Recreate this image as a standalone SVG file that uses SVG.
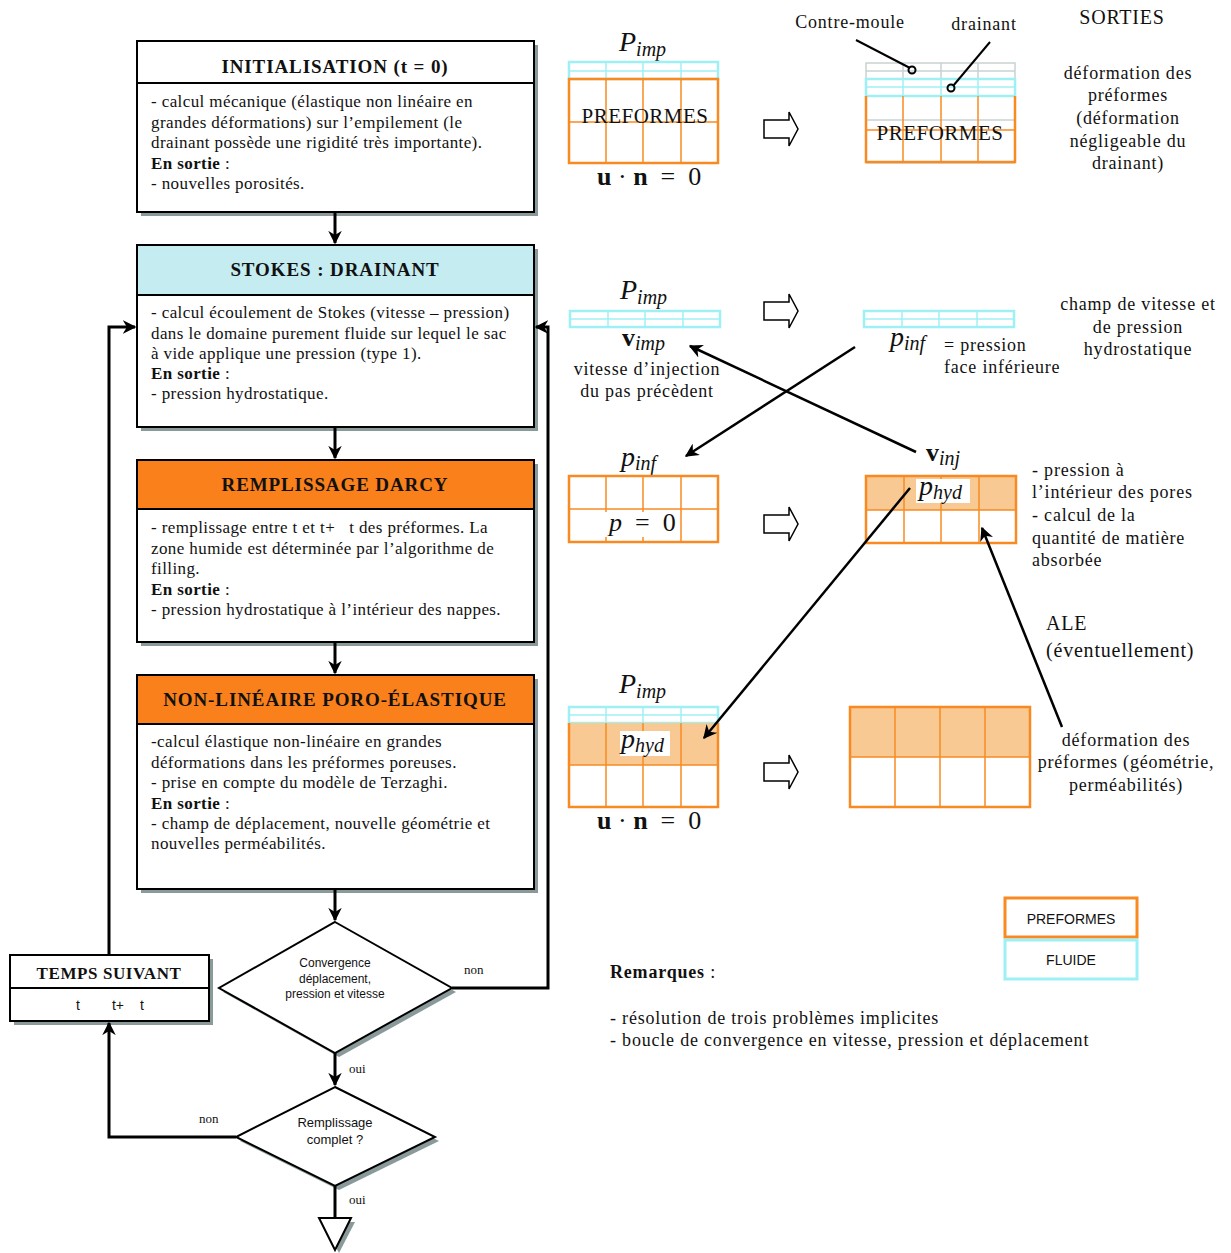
<svg xmlns="http://www.w3.org/2000/svg" width="1231" height="1253" viewBox="0 0 1231 1253">
<style>
.sh{fill:#8a9a9a}
.box{fill:#fff;stroke:#000;stroke-width:2}
.t{font-family:"Liberation Serif",serif;font-size:17px;letter-spacing:0.4px;fill:#111}
.tb{font-weight:bold}
.ti{font-family:"Liberation Serif",serif;font-size:19px;letter-spacing:0.9px;font-weight:bold;text-anchor:middle;fill:#111}
.ss{font-family:"Liberation Sans",sans-serif;font-size:12px;text-anchor:middle;fill:#111}
.lbl{font-family:"Liberation Serif",serif;font-size:13px;fill:#111}
.con{fill:none;stroke:#000;stroke-width:3}
.thin{fill:none;stroke:#000;stroke-width:2.5}
.og{fill:none;stroke:#f98a22;stroke-width:1.5}
.ogb{fill:none;stroke:#f98a22;stroke-width:2.5}
.cy{fill:none;stroke:#9ef0f4;stroke-width:1.5}
.cyb{fill:none;stroke:#9ef0f4;stroke-width:2.5}
.gr{fill:none;stroke:#c8d2d2;stroke-width:1.5}
.rt{font-family:"Liberation Serif",serif;font-size:18px;letter-spacing:0.8px;fill:#111;text-anchor:middle}
.ra{font-family:"Liberation Serif",serif;font-size:18px;letter-spacing:0.8px;fill:#111}
.m{font-family:"Liberation Serif",serif;font-style:italic;font-size:28px;fill:#111}
.mb{font-family:"Liberation Serif",serif;font-size:26px;fill:#111}
.sub{font-size:20px}
.pf{font-family:"Liberation Serif",serif;font-size:21px;letter-spacing:0.5px;fill:#111;text-anchor:middle}
.hol{fill:#fff;stroke:#000;stroke-width:1.5}
.lfill{fill:#f8c993}
</style>
<defs>
<marker id="ah" viewBox="0 0 10 10" refX="9" refY="5" markerWidth="4.5" markerHeight="4.5" orient="auto" markerUnits="strokeWidth"><path d="M0,0 L10,5 L0,10 L3,5 Z" fill="#000"/></marker>
<marker id="ah2" viewBox="0 0 10 10" refX="9" refY="5" markerWidth="5.5" markerHeight="5.5" orient="auto" markerUnits="strokeWidth"><path d="M0,0 L10,5 L0,10 L3,5 Z" fill="#000"/></marker>
<path id="hollow" d="M0,-9 H25 V-17 L34,0 L25,17 V9 H0 Z"/>
</defs>

<g id="init">
<rect class="sh" x="141" y="45" width="397" height="171"/>
<rect class="box" x="137" y="41" width="397" height="171"/>
<line x1="137" y1="83" x2="534" y2="83" stroke="#000" stroke-width="2"/>
<text class="ti" x="335" y="73">INITIALISATION (t = 0)</text>
<text class="t" x="151" y="107">- calcul mécanique (élastique non linéaire en</text>
<text class="t" x="151" y="128">grandes déformations) sur l’empilement (le</text>
<text class="t" x="151" y="148">drainant possède une rigidité très importante).</text>
<text class="t" x="151" y="169"><tspan class="tb">En sortie</tspan> :</text>
<text class="t" x="151" y="189">- nouvelles porosités.</text>
</g>

<g id="stokes">
<rect class="sh" x="141" y="249" width="397" height="182"/>
<rect class="box" x="137" y="245" width="397" height="182"/>
<rect x="138" y="246" width="395" height="49" fill="#c4ecf1"/>
<line x1="137" y1="295" x2="534" y2="295" stroke="#000" stroke-width="2"/>
<text class="ti" x="335" y="276">STOKES : DRAINANT</text>
<text class="t" x="151" y="318">- calcul écoulement de Stokes (vitesse – pression)</text>
<text class="t" x="151" y="339">dans le domaine purement fluide sur lequel le sac</text>
<text class="t" x="151" y="359">à vide applique une pression (type 1).</text>
<text class="t" x="151" y="379"><tspan class="tb">En sortie</tspan> :</text>
<text class="t" x="151" y="399">- pression hydrostatique.</text>
</g>

<g id="darcy">
<rect class="sh" x="141" y="464" width="397" height="182"/>
<rect class="box" x="137" y="460" width="397" height="182"/>
<rect x="138" y="461" width="395" height="48" fill="#f9801a"/>
<line x1="137" y1="509" x2="534" y2="509" stroke="#000" stroke-width="2"/>
<text class="ti" x="335" y="491">REMPLISSAGE DARCY</text>
<text class="t" x="151" y="533" xml:space="preserve">- remplissage entre t et t+   t des préformes. La</text>
<text class="t" x="151" y="554">zone humide est déterminée par l’algorithme de</text>
<text class="t" x="151" y="574">filling.</text>
<text class="t" x="151" y="595"><tspan class="tb">En sortie</tspan> :</text>
<text class="t" x="151" y="615">- pression hydrostatique à l’intérieur des nappes.</text>
</g>

<g id="poro">
<rect class="sh" x="141" y="679" width="397" height="214"/>
<rect class="box" x="137" y="675" width="397" height="214"/>
<rect x="138" y="676" width="395" height="48" fill="#f9801a"/>
<line x1="137" y1="724" x2="534" y2="724" stroke="#000" stroke-width="2"/>
<text class="ti" x="335" y="706">NON-LINÉAIRE PORO-ÉLASTIQUE</text>
<text class="t" x="151" y="747">-calcul élastique non-linéaire en grandes</text>
<text class="t" x="151" y="768">déformations dans les préformes poreuses.</text>
<text class="t" x="151" y="788">- prise en compte du modèle de Terzaghi.</text>
<text class="t" x="151" y="809"><tspan class="tb">En sortie</tspan> :</text>
<text class="t" x="151" y="829">- champ de déplacement, nouvelle géométrie et</text>
<text class="t" x="151" y="849">nouvelles perméabilités.</text>
</g>

<g id="temps">
<rect class="sh" x="14" y="959" width="199" height="66"/>
<rect class="box" x="10" y="955" width="199" height="66"/>
<line x1="10" y1="988" x2="209" y2="988" stroke="#000" stroke-width="2"/>
<text class="ti" x="109" y="979" style="font-size:17px;letter-spacing:0.6px">TEMPS SUIVANT</text>
<text class="ss" x="78" y="1010" style="font-size:14px">t</text>
<text class="ss" x="118" y="1010" style="font-size:14px">t+</text>
<text class="ss" x="142" y="1010" style="font-size:14px">t</text>
</g>

<g id="conv">
<path class="sh" d="M339,926 L456,992 L339,1057 L223,992 Z"/>
<path class="box" d="M335,922 L452,988 L335,1053 L219,988 Z"/>
<text class="ss" x="335" y="967">Convergence</text>
<text class="ss" x="335" y="983">déplacement,</text>
<text class="ss" x="335" y="998">pression et vitesse</text>
</g>

<g id="complet">
<path class="sh" d="M339,1091 L439,1141 L339,1190 L240,1141 Z"/>
<path class="box" d="M335,1087 L435,1137 L335,1186 L236,1137 Z"/>
<text class="ss" x="335" y="1127" style="font-size:13px">Remplissage</text>
<text class="ss" x="335" y="1144" style="font-size:13px">complet ?</text>
</g>

<g id="end">
<path class="sh" d="M323,1222 L355,1222 L339,1253 Z"/>
<path class="box" d="M319,1218 L351,1218 L335,1250 Z"/>
</g>

<g id="grid-init-left">
<text class="m" x="619" y="51">P<tspan class="sub" dy="5">imp</tspan></text>
<rect x="569" y="62" width="149" height="17" class="cyb"/>
<line x1="569" y1="71" x2="718" y2="71" class="cy"/>
<line x1="606" y1="62" x2="606" y2="79" class="cy"/>
<line x1="643" y1="62" x2="643" y2="79" class="cy"/>
<line x1="681" y1="62" x2="681" y2="79" class="cy"/>
<line x1="569" y1="122" x2="718" y2="122" class="og"/>
<line x1="606" y1="79" x2="606" y2="163" class="og"/>
<line x1="643" y1="79" x2="643" y2="163" class="og"/>
<line x1="681" y1="79" x2="681" y2="163" class="og"/>
<rect x="569" y="79" width="149" height="84" class="ogb"/>
<text class="pf" x="645" y="123">PREFORMES</text>
<text class="mb" x="597" y="185" xml:space="preserve"><tspan font-weight="bold">u</tspan> · <tspan font-weight="bold">n</tspan>  =  0</text>
</g>

<use href="#hollow" x="764" y="129" class="hol"/>

<g id="grid-init-right">
<rect x="866" y="63" width="149" height="16" class="gr"/>
<line x1="866" y1="71" x2="1015" y2="71" class="gr"/>
<line x1="866" y1="120" x2="1015" y2="120" class="gr"/>
<line x1="866" y1="163" x2="1015" y2="163" class="gr"/>
<line x1="903" y1="63" x2="903" y2="79" class="gr"/>
<line x1="941" y1="63" x2="941" y2="79" class="gr"/>
<line x1="978" y1="63" x2="978" y2="79" class="gr"/>
<rect x="866" y="79" width="149" height="17" class="cyb"/>
<line x1="866" y1="87" x2="1015" y2="87" class="cy"/>
<line x1="903" y1="79" x2="903" y2="96" class="cy"/>
<line x1="941" y1="79" x2="941" y2="96" class="cy"/>
<line x1="978" y1="79" x2="978" y2="96" class="cy"/>
<line x1="866" y1="130" x2="1015" y2="130" class="og"/>
<line x1="903" y1="96" x2="903" y2="162" class="og"/>
<line x1="941" y1="96" x2="941" y2="162" class="og"/>
<line x1="978" y1="96" x2="978" y2="162" class="og"/>
<path d="M866,96 V162 H1015 V96" class="ogb"/>
<text class="pf" x="940" y="140">PREFORMES</text>
<circle cx="912" cy="70" r="3.5" fill="none" stroke="#000" stroke-width="2"/>
<circle cx="951" cy="88" r="3.5" fill="none" stroke="#000" stroke-width="2"/>
<text class="ra" x="850" y="28" text-anchor="middle">Contre-moule</text>
<text class="ra" x="984" y="30" text-anchor="middle">drainant</text>
<text class="rt" x="1122" y="24" style="font-size:20px">SORTIES</text>
<text class="rt" x="1128" y="79">déformation des</text>
<text class="rt" x="1128" y="101">préformes</text>
<text class="rt" x="1128" y="124">(déformation</text>
<text class="rt" x="1128" y="147">négligeable du</text>
<text class="rt" x="1128" y="169">drainant)</text>
</g>

<g id="grid-stokes-left">
<text class="m" x="620" y="299">P<tspan class="sub" dy="5">imp</tspan></text>
<rect x="570" y="311" width="150" height="16" class="cyb"/>
<line x1="570" y1="319" x2="720" y2="319" class="cy"/>
<line x1="608" y1="311" x2="608" y2="327" class="cy"/>
<line x1="645" y1="311" x2="645" y2="327" class="cy"/>
<line x1="683" y1="311" x2="683" y2="327" class="cy"/>
<text class="mb" x="622" y="346"><tspan font-weight="bold">v</tspan><tspan class="sub" font-style="italic" dy="4">imp</tspan></text>
<text class="rt" x="647" y="375">vitesse d’injection</text>
<text class="rt" x="647" y="397">du pas précèdent</text>
</g>

<use href="#hollow" x="764" y="311" class="hol"/>

<g id="grid-stokes-right">
<rect x="864" y="311" width="150" height="16" fill="#c4ecf1" class="cyb"/>
<line x1="864" y1="319" x2="1014" y2="319" class="cy"/>
<line x1="902" y1="311" x2="902" y2="327" class="cy"/>
<line x1="939" y1="311" x2="939" y2="327" class="cy"/>
<line x1="977" y1="311" x2="977" y2="327" class="cy"/>
<text class="m" x="890" y="346">p<tspan class="sub" dy="4">inf</tspan></text>
<text class="ra" x="944" y="351">= pression</text>
<text class="ra" x="944" y="373">face inférieure</text>
<text class="rt" x="1138" y="310">champ de vitesse et</text>
<text class="rt" x="1138" y="333">de pression</text>
<text class="rt" x="1138" y="355">hydrostatique</text>
</g>

<g id="grid-darcy-left">
<text class="m" x="621" y="466">p<tspan class="sub" dy="4">inf</tspan></text>
<line x1="569" y1="509" x2="718" y2="509" class="og"/>
<line x1="606" y1="476" x2="606" y2="542" class="og"/>
<line x1="643" y1="476" x2="643" y2="542" class="og"/>
<line x1="681" y1="476" x2="681" y2="542" class="og"/>
<rect x="569" y="476" width="149" height="66" class="ogb"/>
<rect x="604" y="512" width="76" height="25" fill="#fff"/>
<text class="mb" x="609" y="531" font-style="italic" xml:space="preserve">p <tspan font-style="normal"> =  0</tspan></text>
</g>

<use href="#hollow" x="764" y="524" class="hol"/>

<g id="grid-darcy-right">
<rect x="866" y="476" width="150" height="34" class="lfill"/>
<line x1="866" y1="510" x2="1016" y2="510" class="og"/>
<line x1="904" y1="476" x2="904" y2="543" class="og"/>
<line x1="941" y1="476" x2="941" y2="543" class="og"/>
<line x1="979" y1="476" x2="979" y2="543" class="og"/>
<rect x="866" y="476" width="150" height="67" class="ogb"/>
<rect x="916" y="479" width="54" height="24" fill="#fff"/>
<text class="m" x="919" y="495">p<tspan class="sub" dy="4">hyd</tspan></text>
<text class="mb" x="926" y="461"><tspan font-weight="bold">v</tspan><tspan class="sub" font-style="italic" dy="4">inj</tspan></text>
<text class="ra" x="1032" y="476">- pression à</text>
<text class="ra" x="1032" y="498">l’intérieur des pores</text>
<text class="ra" x="1032" y="521">- calcul de la</text>
<text class="ra" x="1032" y="544">quantité de matière</text>
<text class="ra" x="1032" y="566">absorbée</text>
<text class="ra" x="1046" y="630" style="font-size:20px">ALE</text>
<text class="ra" x="1046" y="657" style="font-size:20px">(éventuellement)</text>
</g>

<g id="grid-poro-left">
<text class="m" x="619" y="693">P<tspan class="sub" dy="5">imp</tspan></text>
<rect x="569" y="707" width="149" height="16" class="cyb"/>
<line x1="569" y1="715" x2="718" y2="715" class="cy"/>
<line x1="606" y1="707" x2="606" y2="723" class="cy"/>
<line x1="643" y1="707" x2="643" y2="723" class="cy"/>
<line x1="681" y1="707" x2="681" y2="723" class="cy"/>
<rect x="569" y="723" width="149" height="42" class="lfill"/>
<line x1="569" y1="765" x2="718" y2="765" class="og"/>
<line x1="606" y1="723" x2="606" y2="807" class="og"/>
<line x1="643" y1="723" x2="643" y2="807" class="og"/>
<line x1="681" y1="723" x2="681" y2="807" class="og"/>
<path d="M569,723 V807 H718 V723" class="ogb"/>
<rect x="620" y="731" width="50" height="25" fill="#fff"/>
<text class="m" x="621" y="748">p<tspan class="sub" dy="4">hyd</tspan></text>
<text class="mb" x="597" y="829" xml:space="preserve"><tspan font-weight="bold">u</tspan> · <tspan font-weight="bold">n</tspan>  =  0</text>
</g>

<use href="#hollow" x="764" y="772" class="hol"/>

<g id="grid-poro-right">
<rect x="850" y="707" width="180" height="50" class="lfill"/>
<line x1="850" y1="757" x2="1030" y2="757" class="og"/>
<line x1="895" y1="707" x2="895" y2="807" class="og"/>
<line x1="940" y1="707" x2="940" y2="807" class="og"/>
<line x1="985" y1="707" x2="985" y2="807" class="og"/>
<rect x="850" y="707" width="180" height="100" class="ogb"/>
<text class="rt" x="1126" y="746">déformation des</text>
<text class="rt" x="1126" y="768">préformes (géométrie,</text>
<text class="rt" x="1126" y="791">perméabilités)</text>
</g>

<g id="legend">
<rect x="1005" y="898" width="132" height="39" fill="#fff" stroke="#f98a22" stroke-width="3"/>
<rect x="1005" y="940" width="132" height="39" fill="#fff" stroke="#9ef0f4" stroke-width="3"/>
<text class="ss" x="1071" y="924" style="font-size:14px">PREFORMES</text>
<text class="ss" x="1071" y="965" style="font-size:14px">FLUIDE</text>
</g>

<g id="remarques">
<text class="ra" x="610" y="978"><tspan font-weight="bold">Remarques</tspan> :</text>
<text class="ra" x="610" y="1024">- résolution de trois problèmes implicites</text>
<text class="ra" x="610" y="1046">- boucle de convergence en vitesse, pression et déplacement</text>
</g>

<g id="connectors">
<path class="con" d="M335,212 V243" marker-end="url(#ah)"/>
<path class="con" d="M335,427 V458" marker-end="url(#ah)"/>
<path class="con" d="M335,642 V673" marker-end="url(#ah)"/>
<path class="con" d="M335,889 V920" marker-end="url(#ah)"/>
<path class="con" d="M452,988 H548 V327 H536" marker-end="url(#ah)"/>
<path class="con" d="M335,1053 V1085" marker-end="url(#ah)"/>
<path class="con" d="M236,1137 H109 V1023" marker-end="url(#ah)"/>
<path class="con" d="M109,955 V327 H135" marker-end="url(#ah)"/>
<path class="con" d="M335,1186 V1218"/>
<path class="thin" d="M916,452 L690,346" marker-end="url(#ah2)"/>
<path class="thin" d="M855,347 L686,456" marker-end="url(#ah2)"/>
<path class="thin" d="M910,488 L704,738" marker-end="url(#ah2)"/>
<path class="thin" d="M1062,727 L982,528" marker-end="url(#ah2)"/>
<path class="thin" style="stroke-width:2" d="M856,40 L910,68"/>
<path class="thin" style="stroke-width:2" d="M990,42 L953,86"/>
<text class="lbl" x="464" y="974">non</text>
<text class="lbl" x="349" y="1073">oui</text>
<text class="lbl" x="199" y="1123">non</text>
<text class="lbl" x="349" y="1204">oui</text>
</g>
</svg>
